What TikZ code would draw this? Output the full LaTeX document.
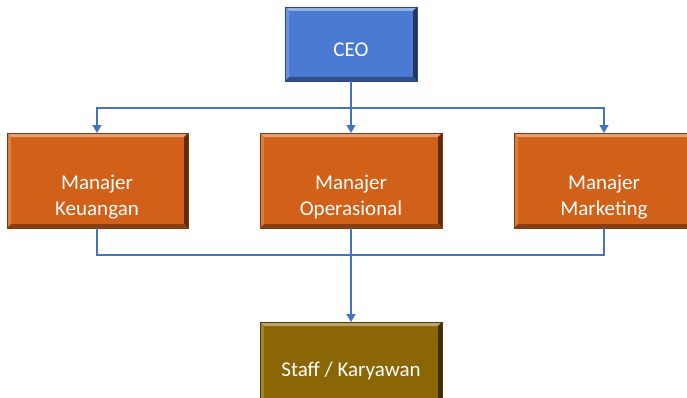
\documentclass[tikz,border=0pt]{standalone}
\usepackage{fontspec}
\setmainfont{Carlito}
\usetikzlibrary{arrows.meta}
\definecolor{ceoblue}{RGB}{74,122,210}
\definecolor{mgrorange}{RGB}{209,97,24}
\definecolor{staffbrown}{RGB}{139,102,6}
\definecolor{linkblue}{RGB}{68,114,196}
\newlength{\bv}\setlength{\bv}{4pt}
\tikzset{
  boxshape/.style={rectangle, inner sep=0pt, outer sep=0pt},
  boxtext/.style={text=white, align=center, font=\fontsize{21}{26}\selectfont, inner sep=0pt},
  link/.style={draw=linkblue, line width=1.3pt},
  arr/.style={link, -{Triangle[length=8pt,width=9pt]}},
}
\newcommand\bevelnode[5]{%
  \node[boxshape, minimum width=#3, minimum height=#4, fill=#5] (#1) at #2 {};
  \fill[#5!60!white] (#1.north west) -- (#1.north east) -- ([xshift=-\bv,yshift=-\bv]#1.north east) -- ([xshift=\bv,yshift=-\bv]#1.north west) -- cycle;
  \fill[#5!82!white] (#1.north west) -- ([xshift=\bv,yshift=-\bv]#1.north west) -- ([xshift=\bv,yshift=\bv]#1.south west) -- (#1.south west) -- cycle;
  \fill[#5!45!black] (#1.north east) -- (#1.south east) -- ([xshift=-\bv,yshift=\bv]#1.south east) -- ([xshift=-\bv,yshift=-\bv]#1.north east) -- cycle;
  \fill[#5!65!black] (#1.south west) -- (#1.south east) -- ([xshift=-\bv,yshift=\bv]#1.south east) -- ([xshift=\bv,yshift=\bv]#1.south west) -- cycle;
  \draw[#5!60!black, line width=0.8pt] (#1.north west) rectangle (#1.south east);
}
\begin{document}
\begin{tikzpicture}[x=1pt, y=1pt]
\useasboundingbox (0,0) rectangle (687,397);
\clip (0,0) rectangle (687,397);
\fill[white] (0,0) rectangle (687,397);

\bevelnode{ceo}{(351,353)}{132pt}{74pt}{ceoblue}
\bevelnode{keu}{(97.5,216.5)}{181pt}{95pt}{mgrorange}
\bevelnode{ops}{(351,216.5)}{182pt}{95pt}{mgrorange}
\bevelnode{mkt}{(605,216.5)}{182pt}{95pt}{mgrorange}
\bevelnode{stf}{(351,33)}{182pt}{84pt}{staffbrown}

\node[boxtext] (ceoT) at (351,347) {CEO};
\node[boxtext] (keuT) at (97,200) {Manajer\\Keuangan};
\node[boxtext] (opsT) at (351,200) {Manajer\\Operasional};
\node[boxtext] (mktT) at (604,200) {Manajer\\Marketing};
\node[boxtext] (stfT) at (351,26) {Staff / Karyawan};

\coordinate (topbus) at (351,289);
\coordinate (botbus) at (351,142);

\draw[link] (ceo.south) -- (topbus);
\draw[arr] (topbus) -| ([xshift=-0.5pt]keu.north);
\draw[arr] (topbus) -- (ops.north);
\draw[arr] (topbus) -| ([xshift=-1pt]mkt.north);

\draw[link] ([xshift=-0.5pt]keu.south) |- (botbus) -| ([xshift=-1pt]mkt.south);
\draw[arr] (ops.south) -- (stf.north);
\end{tikzpicture}
\end{document}
